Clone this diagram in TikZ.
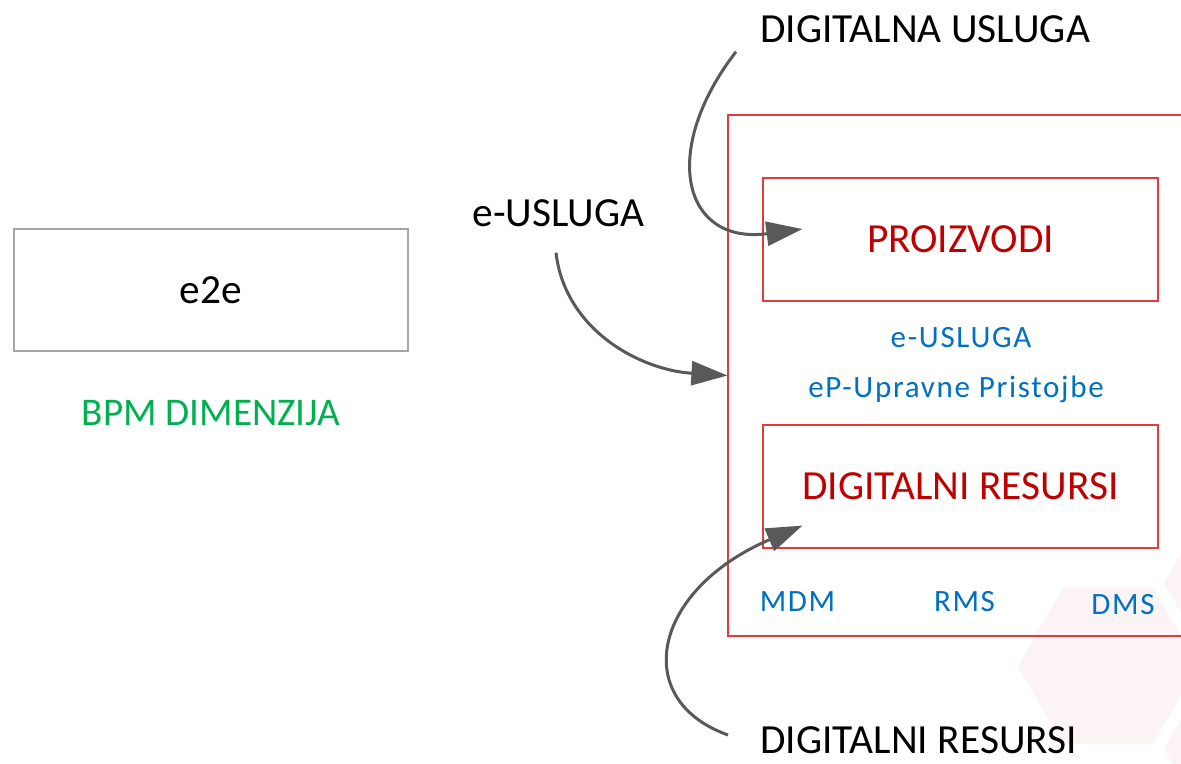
\documentclass[tikz,border=0pt]{standalone}
\usepackage{fontspec}
\setmainfont{Carlito}
\usetikzlibrary{positioning, arrows.meta}
\definecolor{arrgray}{HTML}{595959}
\definecolor{boxred}{HTML}{E03C3C}
\definecolor{txtred}{HTML}{C00000}
\definecolor{txtblue}{HTML}{0070C0}
\definecolor{bpmgreen}{HTML}{00B050}
\definecolor{e2egray}{HTML}{A6A6A6}
\definecolor{hexpink}{HTML}{FBF3F4}
\newcommand{\bigtxt}{\fontsize{20.7}{25}\selectfont}
\newcommand{\bpmtxt}{\fontsize{19.6}{24}\selectfont}
\newcommand{\smalltxt}{\fontsize{15.5}{19}\selectfont\addfontfeatures{LetterSpace=5.5}}

\begin{document}
\begin{tikzpicture}[x=0.5pt, y=-0.5pt, >={Triangle[length=18pt, width=12pt]},
  lbl/.style={inner sep=0pt, font=\bigtxt},
  blu/.style={inner sep=0pt, font=\smalltxt, text=txtblue},
  redbox/.style={draw=boxred, line width=0.6pt, inner sep=0pt, minimum width=197.5pt, minimum height=61.5pt, font=\bigtxt, text=txtred},
  flow/.style={->, draw=arrgray, line width=1.5pt}]

\useasboundingbox (0,0) rectangle (1181,764);

% faint hexagons and the outer frame, cut at the page edge
\begin{scope}
\clip (0,0) rectangle (1181,764);
\fill[hexpink] (1198,666) -- (1153,588) -- (1063,588) -- (1018,666) -- (1063,744) -- (1153,744) -- cycle;
\fill[hexpink] (1344,583) -- (1299,505) -- (1209,505) -- (1164,583) -- (1209,661) -- (1299,661) -- cycle;
\fill[hexpink] (1344,749) -- (1299,671) -- (1209,671) -- (1164,749) -- (1209,827) -- (1299,827) -- cycle;
\node[draw=boxred, line width=0.6pt, inner sep=0pt, minimum width=233.5pt, minimum height=260.5pt] (outer) at (961.5,375.5) {};
\end{scope}

\node[draw=e2egray, line width=0.6pt, inner sep=0pt, minimum width=197pt, minimum height=61pt, font=\bigtxt] (e2e) at (211,290) {e2e};
\node[inner sep=0pt, font=\bpmtxt, text=bpmgreen, anchor=base] (bpm) at (211,425) {BPM DIMENZIJA};

\node[lbl, anchor=base west] (dusl) at (760,43) {DIGITALNA USLUGA};
\node[lbl, anchor=base west] (eusl) at (472,227) {e-USLUGA};
\node[lbl, anchor=base west] (dres) at (760,753) {DIGITALNI RESURSI};

\node[redbox] (proizvodi) at (960.5,239.5) {PROIZVODI};
\node[redbox] (digres) at (960.5,486.5) {DIGITALNI RESURSI};

\node[blu, anchor=base] (eus2) at (961,347) {e-USLUGA};
\node[blu, anchor=base] (epup) at (956,397) {eP-Upravne Pristojbe};

\node[blu, anchor=base] (mdm) at (797.5,611) {MDM};
\node[blu, anchor=base] (rms) at (964.5,611) {RMS};
\node[blu, anchor=base] (dms) at (1123,614) {DMS};

\draw[flow] ([xshift=-12pt, yshift=-4pt]dusl.south west) .. controls (660,150) and (682,245) .. ([xshift=20pt, yshift=5.25pt]proizvodi.west);
\draw[flow] ([xshift=42pt, yshift=-12.5pt]eusl.south west) .. controls (565,330) and (640,370) .. (outer.west);
\draw[flow] ([xshift=-16pt, yshift=9pt]dres.base west) .. controls (630,700) and (652,590) .. ([xshift=20pt, yshift=11.5pt]digres.south west);

\end{tikzpicture}
\end{document}
